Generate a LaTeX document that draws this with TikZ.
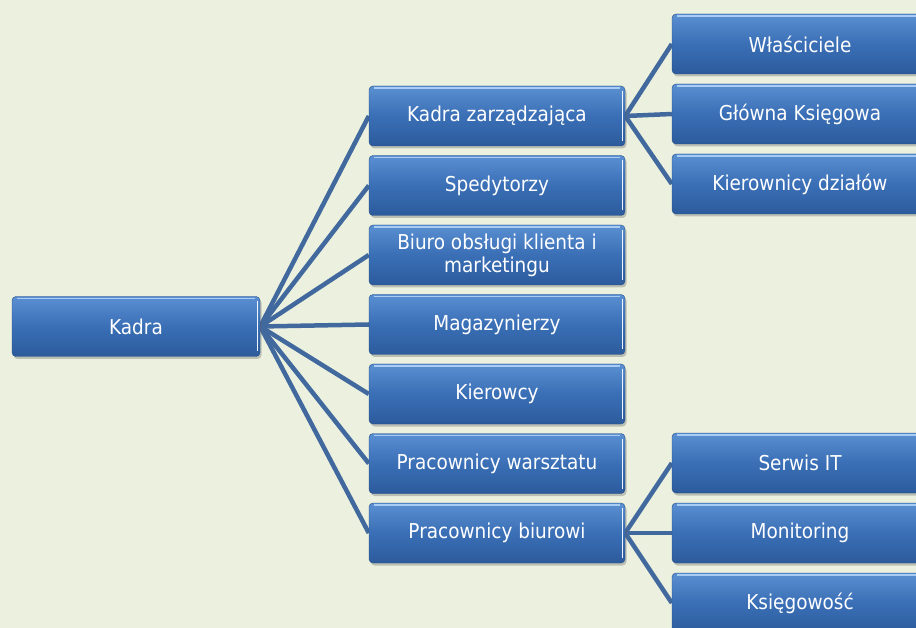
\documentclass[tikz,border=0pt]{standalone}
\usepackage{fontspec}
\setmainfont{DejaVu Sans Condensed}
\usetikzlibrary{shadows,backgrounds}
\definecolor{bg}{HTML}{EBF1DE}
\definecolor{boxtop}{HTML}{5A8FD2}
\definecolor{boxmid}{HTML}{3A6FB6}
\definecolor{boxbot}{HTML}{2C5B9C}
\definecolor{linkc}{HTML}{41699E}
\definecolor{hl}{HTML}{A9CCF2}
\tikzset{
 box/.style={rectangle, rounded corners=4pt, minimum height=60pt, inner sep=2pt,
   top color=boxtop, bottom color=boxbot, middle color=boxmid, text=white,
   font=\fontsize{20.5}{23}\selectfont, align=center,
   drop shadow={shadow xshift=1.5pt, shadow yshift=-2.5pt, opacity=0.35, fill=black!60},
   draw=boxbot!85!black, line width=0.4pt,
   path picture={
     \draw[hl, line width=1.5pt] ([xshift=5pt,yshift=-2pt]path picture bounding box.north west) -- ([xshift=-5pt,yshift=-2pt]path picture bounding box.north east);
     \draw[white!80!hl, line width=1.6pt] ([xshift=-2.5pt,yshift=-5pt]path picture bounding box.north east) -- ([xshift=-2.5pt,yshift=5pt]path picture bounding box.south east);
   }},
 midbox/.style={box, minimum width=256pt},
 linkline/.style={draw=linkc, line width=4.5pt}
}
\begin{document}
\begin{tikzpicture}[x=1pt,y=-1pt]
\useasboundingbox (0,0) rectangle (916,628);
\clip (0,0) rectangle (916,628);
\node[box, minimum width=248pt] (kadra) at (136,326.5) {Kadra};
\node[midbox] (zarz) at (497,116) {Kadra zarządzająca};
\node[midbox] (sped) at (497,185.5) {Spedytorzy};
\node[midbox] (biuro) at (497,255) {Biuro obsługi klienta i\\marketingu};
\node[midbox] (mag) at (497,324.5) {Magazynierzy};
\node[midbox] (kier) at (497,394) {Kierowcy};
\node[midbox] (warsz) at (497,463.5) {Pracownicy warsztatu};
\node[midbox] (biurowi) at (497,533) {Pracownicy biurowi};
\node[midbox] (wlasc) at (800,44) {Właściciele};
\node[midbox] (glowna) at (800,114) {Główna Księgowa};
\node[midbox] (kierdz) at (800,184) {Kierownicy działów};
\node[midbox] (serwis) at (800,463) {Serwis IT};
\node[midbox] (monit) at (800,533) {Monitoring};
\node[midbox] (ksieg) at (800,603) {Księgowość};
\begin{scope}[on background layer]
\fill[bg] (0,0) rectangle (916,628);
\foreach \t in {zarz,sped,biuro,mag,kier,warsz,biurowi}
  \draw[linkline] (kadra.east) -- (\t.west);
\foreach \t in {wlasc,glowna,kierdz}
  \draw[linkline] (zarz.east) -- (\t.west);
\foreach \t in {serwis,monit,ksieg}
  \draw[linkline] (biurowi.east) -- (\t.west);
\end{scope}
\end{tikzpicture}
\end{document}
